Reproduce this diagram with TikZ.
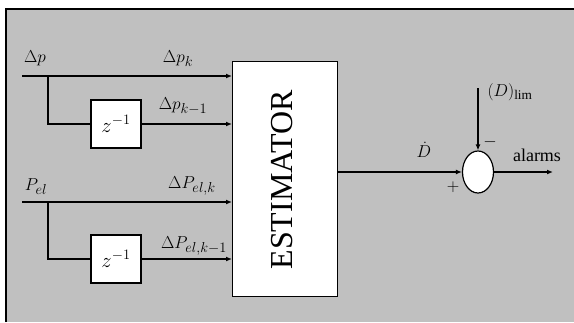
\documentclass[tikz,border=0pt]{standalone}
\usepackage{fontspec}
\setmainfont{Liberation Serif}
\usetikzlibrary{arrows.meta,shapes.geometric}
\definecolor{panel}{RGB}{192,192,192}
\begin{document}
\begin{tikzpicture}[x=1pt,y=-1pt,
  wire/.style={line width=1.2pt},
  sig/.style={wire,-{Latex[length=6pt,width=5pt]}},
  delay/.style={draw,line width=1.2pt,fill=white,minimum width=50pt,minimum height=48pt,inner sep=0pt,
    font=\fontsize{20}{20}\selectfont},
  lbl/.style={font=\fontsize{19}{19}\selectfont,inner sep=0pt}]
\useasboundingbox (0,0) rectangle (574,322);
% panel
\fill[panel] (6,9) rectangle (574,322);
\draw[line width=1.2pt] (6,322) -- (6,9) -- (574,9);

% estimator block
\node[draw,line width=1.2pt,fill=white,minimum width=105pt,minimum height=235pt,
      anchor=north west,inner sep=0pt] (est) at (232,61) {};
\node[rotate=90,font=\fontsize{32}{32}\selectfont] (estlbl) at (282,180) {ESTIMATOR};

% delay blocks
\node[delay] (z1) at (116,124) {$z^{-1}$};
\node[delay] (z2) at (116,259) {$z^{-1}$};

% input points
\coordinate (in1) at (22,76);
\coordinate (br1) at (48,76);
\coordinate (in2) at (22,202);
\coordinate (br2) at (48,202);

% input wires
\draw[sig] (in1) -- (in1 -| est.west);
\draw[wire] (br1) |- (z1.west);
\draw[sig] (z1.east) -- (z1.east -| est.west);
\draw[sig] (in2) -- (in2 -| est.west);
\draw[wire] (br2) |- (z2.west);
\draw[sig] (z2.east) -- (z2.east -| est.west);

% comparator
\node[ellipse,draw,line width=1.2pt,fill=white,minimum width=31pt,minimum height=42pt,inner sep=0pt] (sum) at (478,172) {};
\coordinate (eout) at (337,172);
\coordinate (lim) at (478,88);
\coordinate (alarm) at (553,172);
\draw[sig] (eout) -- (sum.west);
\draw[sig] (lim) -- (sum.north);
\draw[sig] (sum.east) -- (alarm);

% labels
\node[lbl] (l1) at (35,58) {$\Delta p$};
\node[lbl] (l2) at (178,59) {$\Delta p_k$};
\node[lbl] (l3) at (183,106) {$\Delta p_{k-1}$};
\node[lbl] (l4) at (36,187) {$P_{el}$};
\node[lbl] (l5) at (192,186) {$\Delta P_{el,k}$};
\node[lbl] (l6) at (194,246) {$\Delta P_{el,k-1}$};
\node[lbl] (l7) at (424,150) {$\dot{D}$};
\node[lbl] (l8) at (510,92) {$(D)_{\mathrm{lim}}$};
\node[lbl] (l9) at (490,142) {$-$};
\node[lbl] (l10) at (453,187) {$+$};
\node[lbl,font=\fontsize{18}{18}\selectfont] (l11) at (537,155) {alarms};
\end{tikzpicture}
\end{document}
